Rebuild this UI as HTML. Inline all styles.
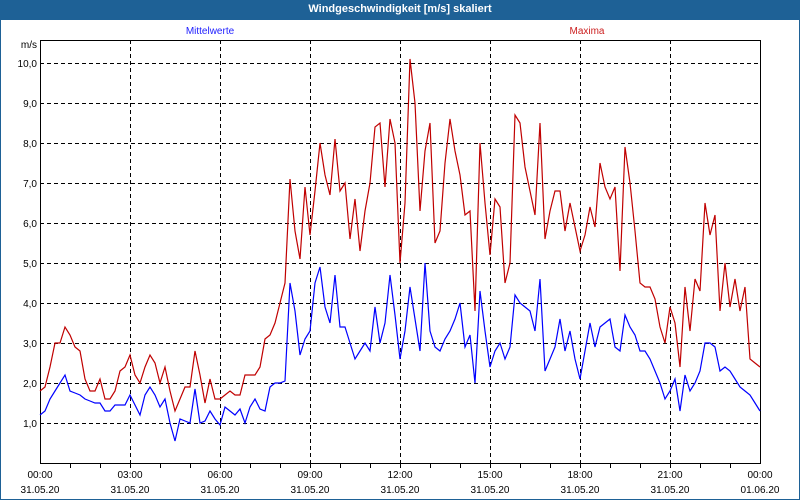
<!DOCTYPE html>
<html><head><meta charset="utf-8"><style>
body{margin:0;width:800px;height:500px;overflow:hidden;background:#fff;font-family:"Liberation Sans",sans-serif}
#panel{position:absolute;left:0;top:0;width:798px;height:498px;border:1px solid #1e6196;background:#fff}
#title{position:absolute;left:0;top:0;width:800px;height:20px;background:#1e6196;color:#fff;font-weight:bold;font-size:11px;text-align:center;line-height:19px}
svg{position:absolute;left:0;top:0}
text{font-family:"Liberation Sans",sans-serif;font-size:10px}
</style></head><body>
<div id="panel"></div>
<div id="title">Windgeschwindigkeit [m/s] skaliert</div>
<svg id="chart" width="800" height="500">
<text x="210" y="34" text-anchor="middle" fill="#2020ff">Mittelwerte</text>
<text x="587" y="34" text-anchor="middle" fill="#cc2020">Maxima</text>
<text x="37" y="48" text-anchor="end" fill="#000">m/s</text>
</svg>
<script>
const yTicks=[1,2,3,4,5,6,7,8,9,10];
const yTickLabels=["1,0","2,0","3,0","4,0","5,0","6,0","7,0","8,0","9,0","10,0"];
const xTickHours=[0,3,6,9,12,15,18,21,24];
const xTimeLabels=["00:00","03:00","06:00","09:00","12:00","15:00","18:00","21:00","00:00"];
const xDateLabels=["31.05.20","31.05.20","31.05.20","31.05.20","31.05.20","31.05.20","31.05.20","31.05.20","01.06.20"];
const maxima=[1.8,1.9,2.4,3.0,3.0,3.4,3.2,2.9,2.8,2.1,
1.8,1.8,2.1,1.6,1.6,1.8,2.3,2.4,2.7,2.2,
2.0,2.4,2.7,2.5,2.0,2.4,1.8,1.3,1.6,1.9,
1.9,2.8,2.2,1.5,2.1,1.6,1.6,1.7,1.8,1.7,
1.7,2.2,2.2,2.2,2.4,3.1,3.2,3.5,4.0,4.5,
7.1,5.8,5.1,6.9,5.7,6.8,8.0,7.2,6.7,8.1,
6.8,7.0,5.6,6.6,5.3,6.3,7.0,8.4,8.5,6.9,
8.6,8.0,5.0,6.5,10.1,9.0,6.3,7.8,8.5,5.5,
5.8,7.5,8.6,7.8,7.2,6.2,6.3,3.8,8.0,6.5,
5.2,6.6,6.4,4.5,5.0,8.7,8.5,7.4,6.8,6.2,
8.5,5.6,6.3,6.8,6.8,5.8,6.5,5.9,5.3,5.7,
6.4,5.9,7.5,6.9,6.6,6.9,4.8,7.9,7.0,5.8,
4.5,4.4,4.4,4.1,3.4,3.0,3.9,3.5,2.4,4.4,
3.3,4.6,4.3,6.5,5.7,6.2,3.8,5.0,3.9,4.6,
3.8,4.4,2.6,2.5,2.4];
const mittelwerte=[1.2,1.3,1.6,1.8,2.0,2.2,1.8,1.75,1.7,1.6,
1.55,1.5,1.5,1.3,1.3,1.45,1.45,1.45,1.7,1.45,
1.2,1.7,1.9,1.7,1.4,1.6,1.0,0.55,1.1,1.05,
1.0,1.85,1.0,1.05,1.3,1.1,0.95,1.4,1.3,1.2,
1.35,1.0,1.4,1.6,1.35,1.3,1.9,2.0,2.0,2.05,
4.5,3.8,2.7,3.1,3.3,4.5,4.9,3.9,3.5,4.7,
3.4,3.4,3.0,2.6,2.8,3.0,2.8,3.9,3.0,3.5,
4.7,3.7,2.6,3.3,4.4,3.6,2.8,5.0,3.3,2.9,
2.8,3.1,3.3,3.6,4.0,2.9,3.2,2.0,4.3,3.3,
2.4,2.8,3.0,2.6,2.9,4.2,4.0,3.9,3.8,3.3,
4.6,2.3,2.6,2.9,3.6,2.8,3.3,2.6,2.1,2.8,
3.5,2.9,3.4,3.5,3.6,2.9,2.8,3.7,3.4,3.2,
2.8,2.8,2.6,2.3,2.0,1.6,1.8,2.1,1.3,2.2,
1.8,2.0,2.3,3.0,3.0,2.9,2.3,2.4,2.3,2.1,
1.9,1.8,1.7,1.5,1.3];
const X0=40,X1=760,Y0=463,PPU=40;
const xScale=h=>X0+(X1-X0)*h/24;
const yScale=v=>Y0-v*PPU;
const svg=document.getElementById('chart');
const NS='http://www.w3.org/2000/svg';
function mk(tag,attrs){const e=document.createElementNS(NS,tag);for(const k in attrs)e.setAttribute(k,attrs[k]);svg.appendChild(e);return e;}
yTicks.forEach((v,i)=>{
  const y=yScale(v)+0.5;
  const g=mk('line',{x1:X0,x2:X1,y1:y,y2:y,stroke:'#000','stroke-dasharray':'4,3','stroke-width':1});
  
  
  const t=mk('text',{x:37,y:yScale(v)+4,'text-anchor':'end',fill:'#000'});
  t.textContent=yTickLabels[i];
  
  
});
for(let h=1;h<24;h++){
  const x=xScale(h)+0.5;
  const tk=mk('line',{x1:x,x2:x,y1:Y0,y2:Y0+5,stroke:'#000'});
  
  
}
xTickHours.forEach((h,i)=>{
  const x=xScale(h)+0.5;
  if(h>0&&h<24){
    const g=mk('line',{x1:x,x2:x,y1:40,y2:Y0,stroke:'#000','stroke-dasharray':'4,3'});
    
    
  }
  const t=mk('text',{x:xScale(h),y:478,'text-anchor':'middle',fill:'#000'});
  t.textContent=xTimeLabels[i];
  
  
  const d=mk('text',{x:xScale(h),y:493,'text-anchor':'middle',fill:'#000'});
  d.textContent=xDateLabels[i];
  
  
});
const frame=mk('rect',{x:X0+0.5,y:40.5,width:X1-X0,height:Y0-40,fill:'none',stroke:'#000'});


function series(arr,color,name){
  const n=arr.length;
  const pts=arr.map((v,i)=>xScale(24*i/(n-1)).toFixed(1)+','+yScale(v).toFixed(1)).join(' ');
  const p=mk('polyline',{points:pts,fill:'none',stroke:color,'stroke-width':1.2});
  
  
}
series(maxima,'#c00000','maxima-line');
series(mittelwerte,'#0000ff','mittelwerte-line');
</script>
</body></html>
